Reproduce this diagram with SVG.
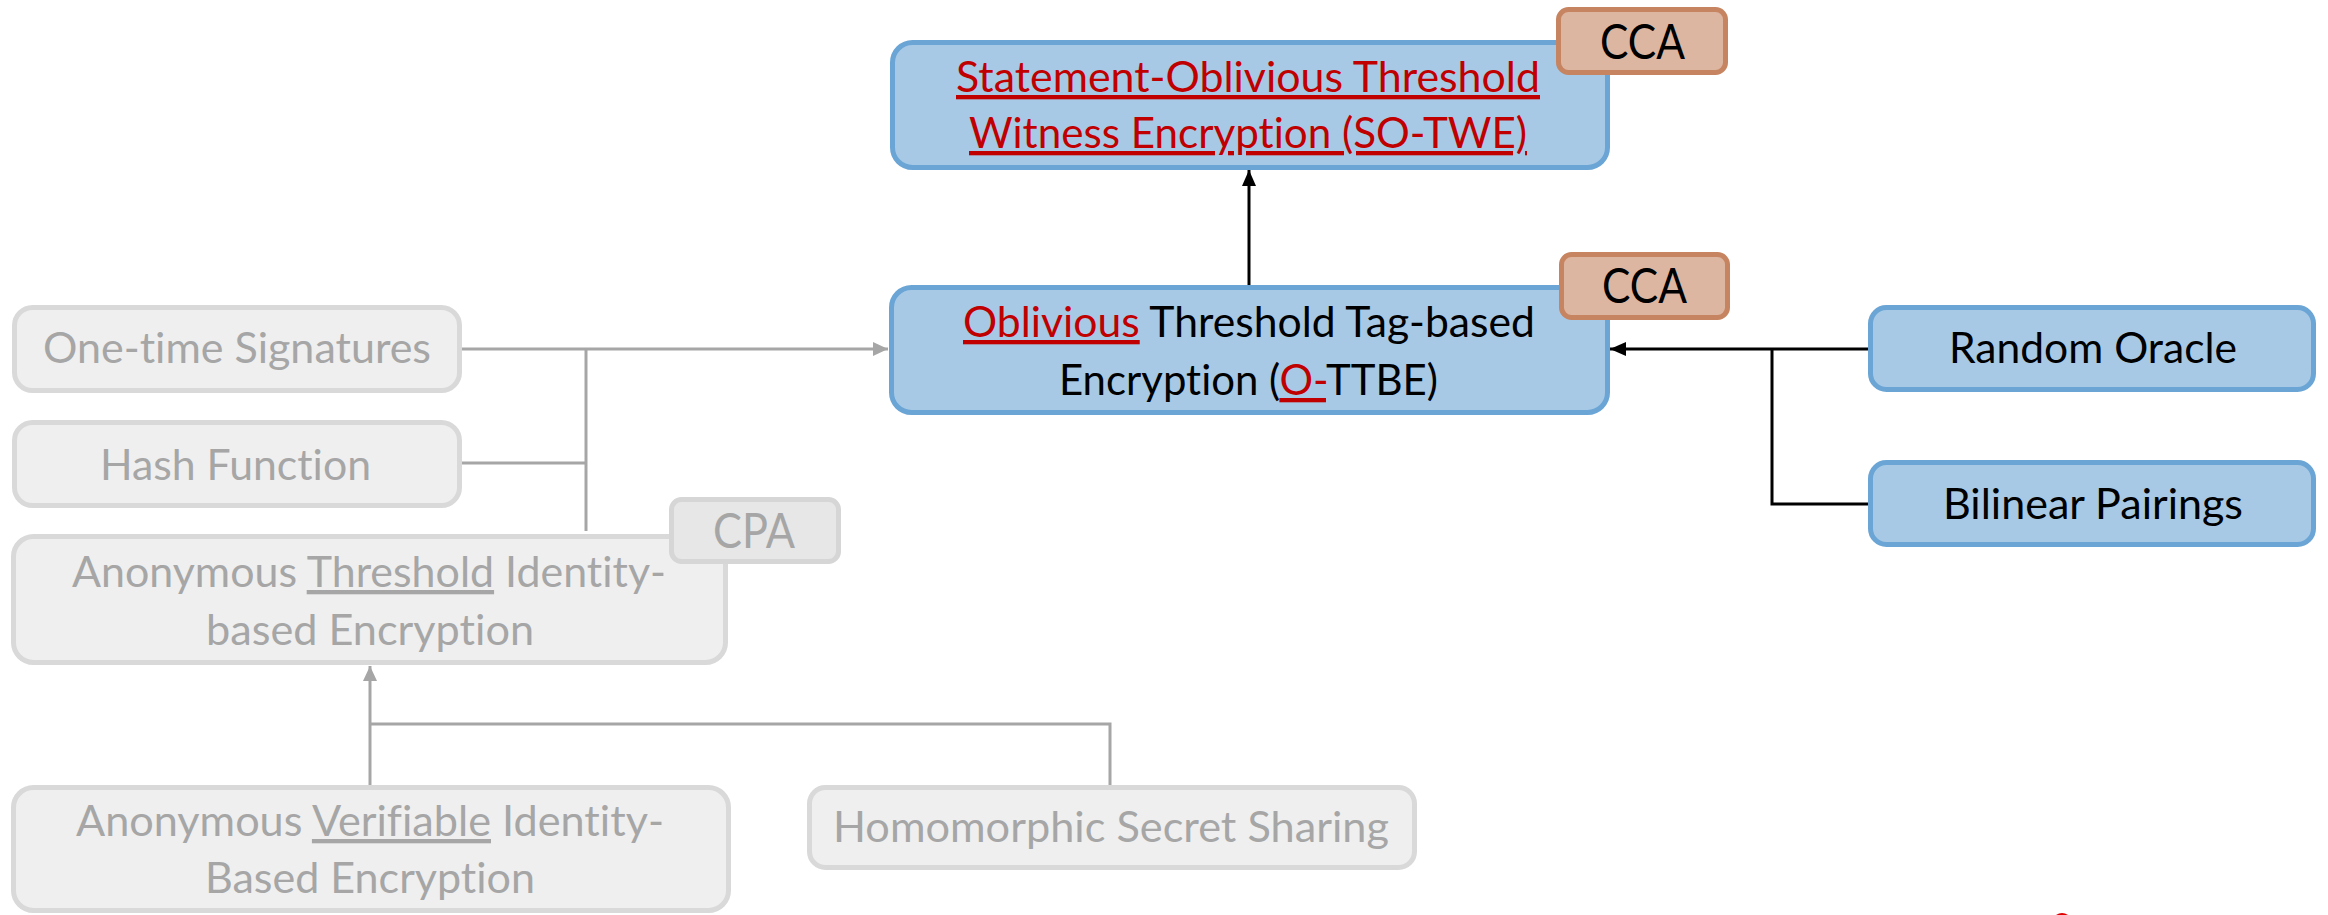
<svg xmlns="http://www.w3.org/2000/svg" width="2328" height="915" viewBox="0 0 2328 915">
  <style>
    text { font-family: Lato, "Open Sans", "Liberation Sans", sans-serif; font-size: 43px; font-variant-ligatures: none; font-feature-settings: "liga" 0, "clig" 0, "dlig" 0; }
    .blue { fill: #a7c9e5; stroke: #6aa5d5; stroke-width: 5; }
    .badge { fill: #ddb6a1; stroke: #c78460; stroke-width: 5; }
    .grey { fill: #efefef; stroke: #d9d9d9; stroke-width: 5; }
    .greybadge { fill: #e7e7e7; stroke: #d6d6d6; stroke-width: 5; }
    .dark { fill: #000000; }
    .red { fill: #c00000; }
    .ul { text-decoration: underline; }
    .faded { fill: #a6a6a6; }
    .tag { font-size: 48px; }
    .wire { fill: none; stroke: #000000; stroke-width: 3; }
    .wire-grey { fill: none; stroke: #a6a6a6; stroke-width: 3; }
  </style>
  <defs>
    <marker id="arrow" markerUnits="userSpaceOnUse" markerWidth="18" markerHeight="16" refX="16" refY="7" orient="auto">
      <path d="M0,0 L16,7 L0,14 Z" fill="#000000"/>
    </marker>
    <marker id="arrow-grey" markerUnits="userSpaceOnUse" markerWidth="18" markerHeight="16" refX="15" refY="7" orient="auto">
      <path d="M0,0 L15,7 L0,14 Z" fill="#a6a6a6"/>
    </marker>
  </defs>

  <rect width="2328" height="915" fill="#ffffff"/>

  <!-- Statement-Oblivious Threshold Witness Encryption -->
  <g id="so-twe">
    <rect class="blue" x="892.5" y="42.5" width="715" height="125" rx="20"/>
    <text class="red ul" x="956" y="92" textLength="584" lengthAdjust="spacingAndGlyphs">Statement-Oblivious Threshold</text>
    <text class="red ul" x="969" y="148" textLength="558" lengthAdjust="spacingAndGlyphs">Witness Encryption (SO-TWE)</text>
  </g>
  <g id="so-twe-cca">
    <rect class="badge" x="1558.5" y="9.5" width="167" height="63" rx="10"/>
    <text class="dark tag" x="1600" y="59" textLength="85" lengthAdjust="spacingAndGlyphs">CCA</text>
  </g>

  <!-- Oblivious Threshold Tag-based Encryption -->
  <g id="o-ttbe">
    <rect class="blue" x="891.5" y="287.5" width="716" height="125" rx="20"/>
    <text class="dark" x="963" y="337" textLength="572" lengthAdjust="spacingAndGlyphs"><tspan class="red ul">Oblivious</tspan> Threshold Tag-based</text>
    <text class="dark" x="1059" y="395" textLength="379" lengthAdjust="spacingAndGlyphs">Encryption (<tspan class="red ul">O-</tspan>TTBE)</text>
  </g>
  <g id="o-ttbe-cca">
    <rect class="badge" x="1561.5" y="254.5" width="166" height="63" rx="10"/>
    <text class="dark tag" x="1602" y="303" textLength="85" lengthAdjust="spacingAndGlyphs">CCA</text>
  </g>

  <g id="random-oracle">
    <rect class="blue" x="1870.5" y="307.5" width="443" height="82" rx="16"/>
    <text class="dark" x="1949" y="363" textLength="288" lengthAdjust="spacingAndGlyphs">Random Oracle</text>
  </g>
  <g id="bilinear-pairings">
    <rect class="blue" x="1870.5" y="462.5" width="443" height="82" rx="16"/>
    <text class="dark" x="1943" y="519" textLength="300" lengthAdjust="spacingAndGlyphs">Bilinear Pairings</text>
  </g>

  <!-- faded building blocks -->
  <g id="one-time-signatures">
    <rect class="grey" x="14.5" y="307.5" width="445" height="83" rx="18"/>
    <text class="faded" x="43" y="363" textLength="388" lengthAdjust="spacingAndGlyphs">One-time Signatures</text>
  </g>
  <g id="hash-function">
    <rect class="grey" x="14.5" y="422.5" width="445" height="83" rx="18"/>
    <text class="faded" x="100" y="480" textLength="271" lengthAdjust="spacingAndGlyphs">Hash Function</text>
  </g>
  <g id="anon-threshold-ibe">
    <rect class="grey" x="13.5" y="536.5" width="712" height="126" rx="20"/>
    <text class="faded" x="72" y="587" textLength="594" lengthAdjust="spacingAndGlyphs">Anonymous <tspan class="ul">Threshold</tspan> Identity-</text>
    <text class="faded" x="206" y="645" textLength="328" lengthAdjust="spacingAndGlyphs">based Encryption</text>
  </g>
  <g id="anon-threshold-ibe-cpa">
    <rect class="greybadge" x="671.5" y="499.5" width="167" height="62" rx="10"/>
    <text class="faded tag" x="713" y="548" textLength="82" lengthAdjust="spacingAndGlyphs">CPA</text>
  </g>
  <g id="anon-verifiable-ibe">
    <rect class="grey" x="13.5" y="787.5" width="715" height="123" rx="20"/>
    <text class="faded" x="76" y="836" textLength="588" lengthAdjust="spacingAndGlyphs">Anonymous <tspan class="ul">Verifiable</tspan> Identity-</text>
    <text class="faded" x="205" y="893" textLength="330" lengthAdjust="spacingAndGlyphs">Based Encryption</text>
  </g>
  <g id="homomorphic-secret-sharing">
    <rect class="grey" x="809.5" y="787.5" width="605" height="80" rx="16"/>
    <text class="faded" x="833" y="842" textLength="556" lengthAdjust="spacingAndGlyphs">Homomorphic Secret Sharing</text>
  </g>

  <!-- connectors -->
  <g id="connectors">
    <path class="wire" d="M1249 285 V170" marker-end="url(#arrow)"/>
    <path class="wire" d="M1868 349 H1610" marker-end="url(#arrow)"/>
    <path class="wire" d="M1772 349 V504 H1868"/>
    <path class="wire-grey" d="M462 349 H888" marker-end="url(#arrow-grey)"/>
    <path class="wire-grey" d="M586 349 V531"/>
    <path class="wire-grey" d="M462 463 H586"/>
    <path class="wire-grey" d="M370 785 V666" marker-end="url(#arrow-grey)"/>
    <path class="wire-grey" d="M370 724 H1110 V785"/>
  </g>

  <!-- red stroke at the lower edge -->
  <path d="M2056 915 Q2062 911 2068 915 Z" fill="#e00000"/>
</svg>
